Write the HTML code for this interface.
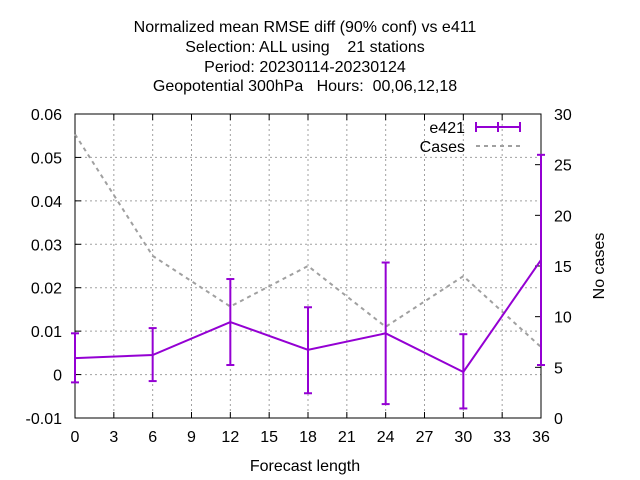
<!DOCTYPE html>
<html><head><meta charset="utf-8"><style>
body{margin:0;background:#fff}
svg{display:block;font-family:"Liberation Sans",sans-serif}
text{white-space:pre}
</style></head><body>
<svg id="c" width="640" height="480">
<g font-size="16" text-anchor="middle" fill="#000">
<text x="305" y="32">Normalized mean RMSE diff (90% conf) vs e411</text>
<text x="305" y="52">Selection: ALL using    21 stations</text>
<text x="305" y="72">Period: 20230114-20230124</text>
<text x="305" y="91">Geopotential 300hPa   Hours:  00,06,12,18</text>
</g>
<g id="grid"></g>
<g id="axes"></g>
<g id="marks"></g>
<text x="305" y="471" font-size="16" text-anchor="middle">Forecast length</text>
<text transform="translate(604,266) rotate(-90)" font-size="16" text-anchor="middle">No cases</text>
<g font-size="16">
<text x="465" y="133" text-anchor="end">e421</text>
<line x1="476" y1="127" x2="520" y2="127" stroke="#9400d3" stroke-width="2"/>
<line x1="476" y1="122" x2="476" y2="132" stroke="#9400d3" stroke-width="2"/>
<line x1="498" y1="122" x2="498" y2="132" stroke="#9400d3" stroke-width="2"/>
<line x1="520" y1="122" x2="520" y2="132" stroke="#9400d3" stroke-width="2"/>
<text x="465" y="152" text-anchor="end">Cases</text>
<line x1="476" y1="146" x2="520" y2="146" stroke="#a0a0a0" stroke-width="2" stroke-dasharray="4,4"/>
</g>
</svg>
<script>
const xVals=[0,6,12,18,24,30,36];
const e421=[0.0038,0.0045,0.0121,0.0057,0.0095,0.0006,0.0264];
const e421Lo=[-0.0018,-0.0015,0.0022,-0.0043,-0.0068,-0.0078,0.0022];
const e421Hi=[0.0095,0.0107,0.0220,0.0155,0.0258,0.0093,0.0506];
const cases=[28,16,11,15,9,14,7];
const xTicks=[0,3,6,9,12,15,18,21,24,27,30,33,36];
const yTicks=[-0.01,0,0.01,0.02,0.03,0.04,0.05,0.06];
const yLabels=["-0.01","0","0.01","0.02","0.03","0.04","0.05","0.06"];
const y2Ticks=[0,5,10,15,20,25,30];
const L=75,R=541,T=114,B=418,NS="http://www.w3.org/2000/svg";
const X=v=>L+(v-0)/36*(R-L);
const Y=v=>B-(v+0.01)/0.07*(B-T);
const Y2=v=>B-v/30*(B-T);
function mk(p,t,a){const e=document.createElementNS(NS,t);for(const k in a)e.setAttribute(k,a[k]);document.getElementById(p).appendChild(e);return e;}
xTicks.forEach(t=>{
 let g=mk('grid','line',{x1:X(t),x2:X(t),y1:T,y2:B,stroke:'#a0a0a0','stroke-dasharray':'2,3'});
 
 
 mk('axes','line',{x1:X(t),x2:X(t),y1:B,y2:B-6,stroke:'#000'});
 mk('axes','line',{x1:X(t),x2:X(t),y1:T,y2:T+6,stroke:'#000'});
 let l=mk('axes','text',{x:X(t),y:B+24,'font-size':16,'text-anchor':'middle'});l.textContent=t;
 
 
});
yTicks.forEach((t,i)=>{
 let g=mk('grid','line',{x1:L,x2:R,y1:Y(t),y2:Y(t),stroke:'#a0a0a0','stroke-dasharray':'2,3'});
 
 
 mk('axes','line',{x1:L,x2:L+6,y1:Y(t),y2:Y(t),stroke:'#000'});
 let l=mk('axes','text',{x:L-13,y:Y(t)+6,'font-size':16,'text-anchor':'end'});l.textContent=yLabels[i];
 
 
});
y2Ticks.forEach(t=>{
 mk('axes','line',{x1:R,x2:R-6,y1:Y2(t),y2:Y2(t),stroke:'#000'});
 let l=mk('axes','text',{x:R+13,y:Y2(t)+6,'font-size':16});l.textContent=t;
 
 
});
mk('axes','rect',{x:L,y:T,width:R-L,height:B-T,fill:'none',stroke:'#000'});
let cp=mk('marks','polyline',{points:xVals.map((x,i)=>X(x)+','+Y2(cases[i])).join(' '),fill:'none',stroke:'#a0a0a0','stroke-width':2,'stroke-dasharray':'4,4'});


let ep=mk('marks','polyline',{points:xVals.map((x,i)=>X(x)+','+Y(e421[i])).join(' '),fill:'none',stroke:'#9400d3','stroke-width':2});


xVals.forEach((x,i)=>{
 let b=mk('marks','line',{x1:X(x),x2:X(x),y1:Y(e421Lo[i]),y2:Y(e421Hi[i]),stroke:'#9400d3','stroke-width':2});
 
 
 [e421Lo[i],e421Hi[i]].forEach(v=>mk('marks','line',{x1:X(x)-4,x2:X(x)+4,y1:Y(v),y2:Y(v),stroke:'#9400d3','stroke-width':2}));
});
</script>
</body></html>
